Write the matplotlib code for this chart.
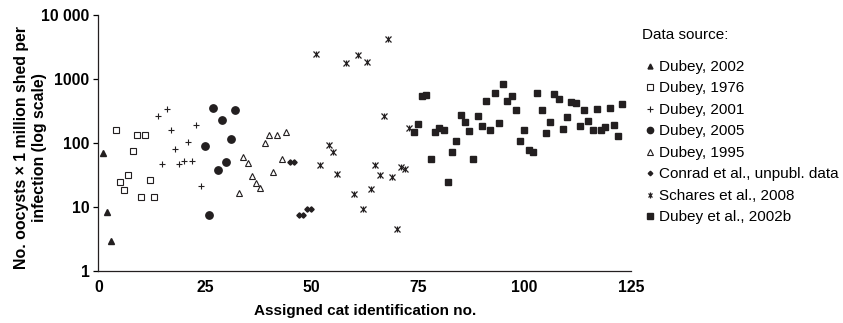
import matplotlib
matplotlib.use("Agg")
import matplotlib.pyplot as plt
from matplotlib.ticker import FixedLocator, FixedFormatter, NullLocator

plt.rcParams['font.family'] = ['Liberation Sans', 'DejaVu Sans']

# cat id / oocysts (x 1 million) per source
dubey2002_x = [1, 2, 3]
dubey2002_y = [69, 8.4, 2.9]

dubey1976_x = [4, 5, 6, 7, 8, 9, 10, 11, 12, 13]
dubey1976_y = [159, 24.4, 18.3, 31.5, 74, 133, 14.2, 133, 26.6, 14]

dubey2001_x = [14, 15, 16, 17, 18, 19, 20, 21, 22, 23, 24]
dubey2001_y = [264, 47, 336, 159, 81, 46, 51.5, 102, 52, 188, 21.4]

dubey2005_x = [25, 26, 27, 28, 29, 30, 31, 32]
dubey2005_y = [89, 7.4, 348, 37, 231, 50, 116, 331]

dubey1995_x = [33, 34, 35, 36, 37, 38, 39, 40, 41, 42, 43, 44]
dubey1995_y = [16.3, 60, 49, 30.7, 23.8, 19.9, 98.6, 134, 34.7, 134, 55, 150]

conrad_x = [45, 46, 47, 48, 49, 50]
conrad_y = [50, 50, 7.4, 7.4, 9.1, 9.1]

schares_x = [51, 52, 54, 55, 56, 58, 60, 61, 62, 63, 64, 65, 66, 67, 68, 69, 70, 71, 72, 73]
schares_y = [2461, 45.6, 91.7, 72, 32.6, 1762, 15.9, 2375, 9.2, 1846,
             18.8, 45.6, 31.8, 266, 4227, 29.2, 4.45, 42.3, 38.6, 173]

dubey2002b_x = list(range(74, 124))
dubey2002b_y = [147, 195, 542, 556, 56, 147, 169, 157, 24.7, 72,
                107, 273, 212, 153, 56, 264, 182, 453, 157, 597,
                207, 826, 453, 542, 327, 108, 157, 77, 71, 611,
                327, 141, 212, 576, 486, 163, 254, 442, 421, 184,
                331, 218, 157, 336, 159, 179, 348, 193, 127, 406]

ytick_vals = [1, 10, 100, 1000, 10000]
ytick_labels = ['1', '10', '100', '1000', '10 000']
xtick_vals = [0, 25, 50, 75, 100, 125]

k = '#231f20'
fig = plt.figure(figsize=(8.43, 3.23), dpi=100)
ax = fig.add_axes([0.1168, 0.162, 0.6317, 0.7918])

h1, = ax.plot(dubey2002_x, dubey2002_y, ls='none', marker='^', ms=4.2, color=k)
h2, = ax.plot(dubey1976_x, dubey1976_y, ls='none', marker='s', ms=4.3, mfc='white', mec=k, mew=0.8)
h3, = ax.plot(dubey2001_x, dubey2001_y, ls='none', marker='+', ms=5, mew=0.8, color=k)
h4, = ax.plot(dubey2005_x, dubey2005_y, ls='none', marker='o', ms=5.3, color=k)
h5, = ax.plot(dubey1995_x, dubey1995_y, ls='none', marker='^', ms=4.6, mfc='white', mec=k, mew=0.8)
h6, = ax.plot(conrad_x, conrad_y, ls='none', marker='D', ms=2.7, color=k)
# excel style star: an x with a vertical bar through it
h7a, = ax.plot(schares_x, schares_y, ls='none', marker='x', ms=4.2, mew=0.9, color=k)
h7b, = ax.plot(schares_x, schares_y, ls='none', marker='|', ms=4.4, mew=0.9, color=k)
h8, = ax.plot(dubey2002b_x, dubey2002b_y, ls='none', marker='s', ms=4.4, color=k)

ax.set_yscale('log')
ax.set_ylim(1, 10000)
ax.set_xlim(0, 125)
ax.yaxis.set_major_locator(FixedLocator(ytick_vals))
ax.yaxis.set_major_formatter(FixedFormatter(ytick_labels))
ax.yaxis.set_minor_locator(NullLocator())
ax.set_xticks(xtick_vals)
ax.set_xticklabels([str(v) for v in xtick_vals])

for s in ['top', 'right']:
    ax.spines[s].set_visible(False)
for s in ['left', 'bottom']:
    ax.spines[s].set_linewidth(0.9)
    ax.spines[s].set_color(k)

ax.tick_params(axis='y', length=3.5, width=0.9, labelsize=11.3, pad=3)
ax.tick_params(axis='x', length=0, labelsize=11.3, pad=7)
for lab in ax.get_xticklabels() + ax.get_yticklabels():
    lab.set_fontweight('bold')

ax.set_xlabel('Assigned cat identification no.', fontsize=11, fontweight='bold', labelpad=6)
ax.set_ylabel('No. oocysts \u00d7 1 million shed per\ninfection (log scale)',
              fontsize=11.4, fontweight='bold', linespacing=1.2)
# right edge of the two-line label sits just left of the tick labels
ax.yaxis.set_label_coords(-0.097, 0.482)

fig.text(641.5 / 843, 1 - 35 / 323, 'Data source:', fontsize=11, va='center', ha='left')
labels = ['Dubey, 2002', 'Dubey, 1976', 'Dubey, 2001', 'Dubey, 2005', 'Dubey, 1995',
          'Conrad et al., unpubl. data', 'Schares et al., 2008', 'Dubey et al., 2002b']
ax.legend([h1, h2, h3, h4, h5, h6, (h7a, h7b), h8], labels,
          loc='upper left', bbox_to_anchor=(645.5 / 843, 1 - 60 / 323), bbox_transform=fig.transFigure,
          frameon=False, fontsize=11, handlelength=0.6, handletextpad=0.29, labelspacing=0.49,
          borderpad=0, borderaxespad=0, markerscale=0.85)

fig.savefig('out.png', dpi=100)
